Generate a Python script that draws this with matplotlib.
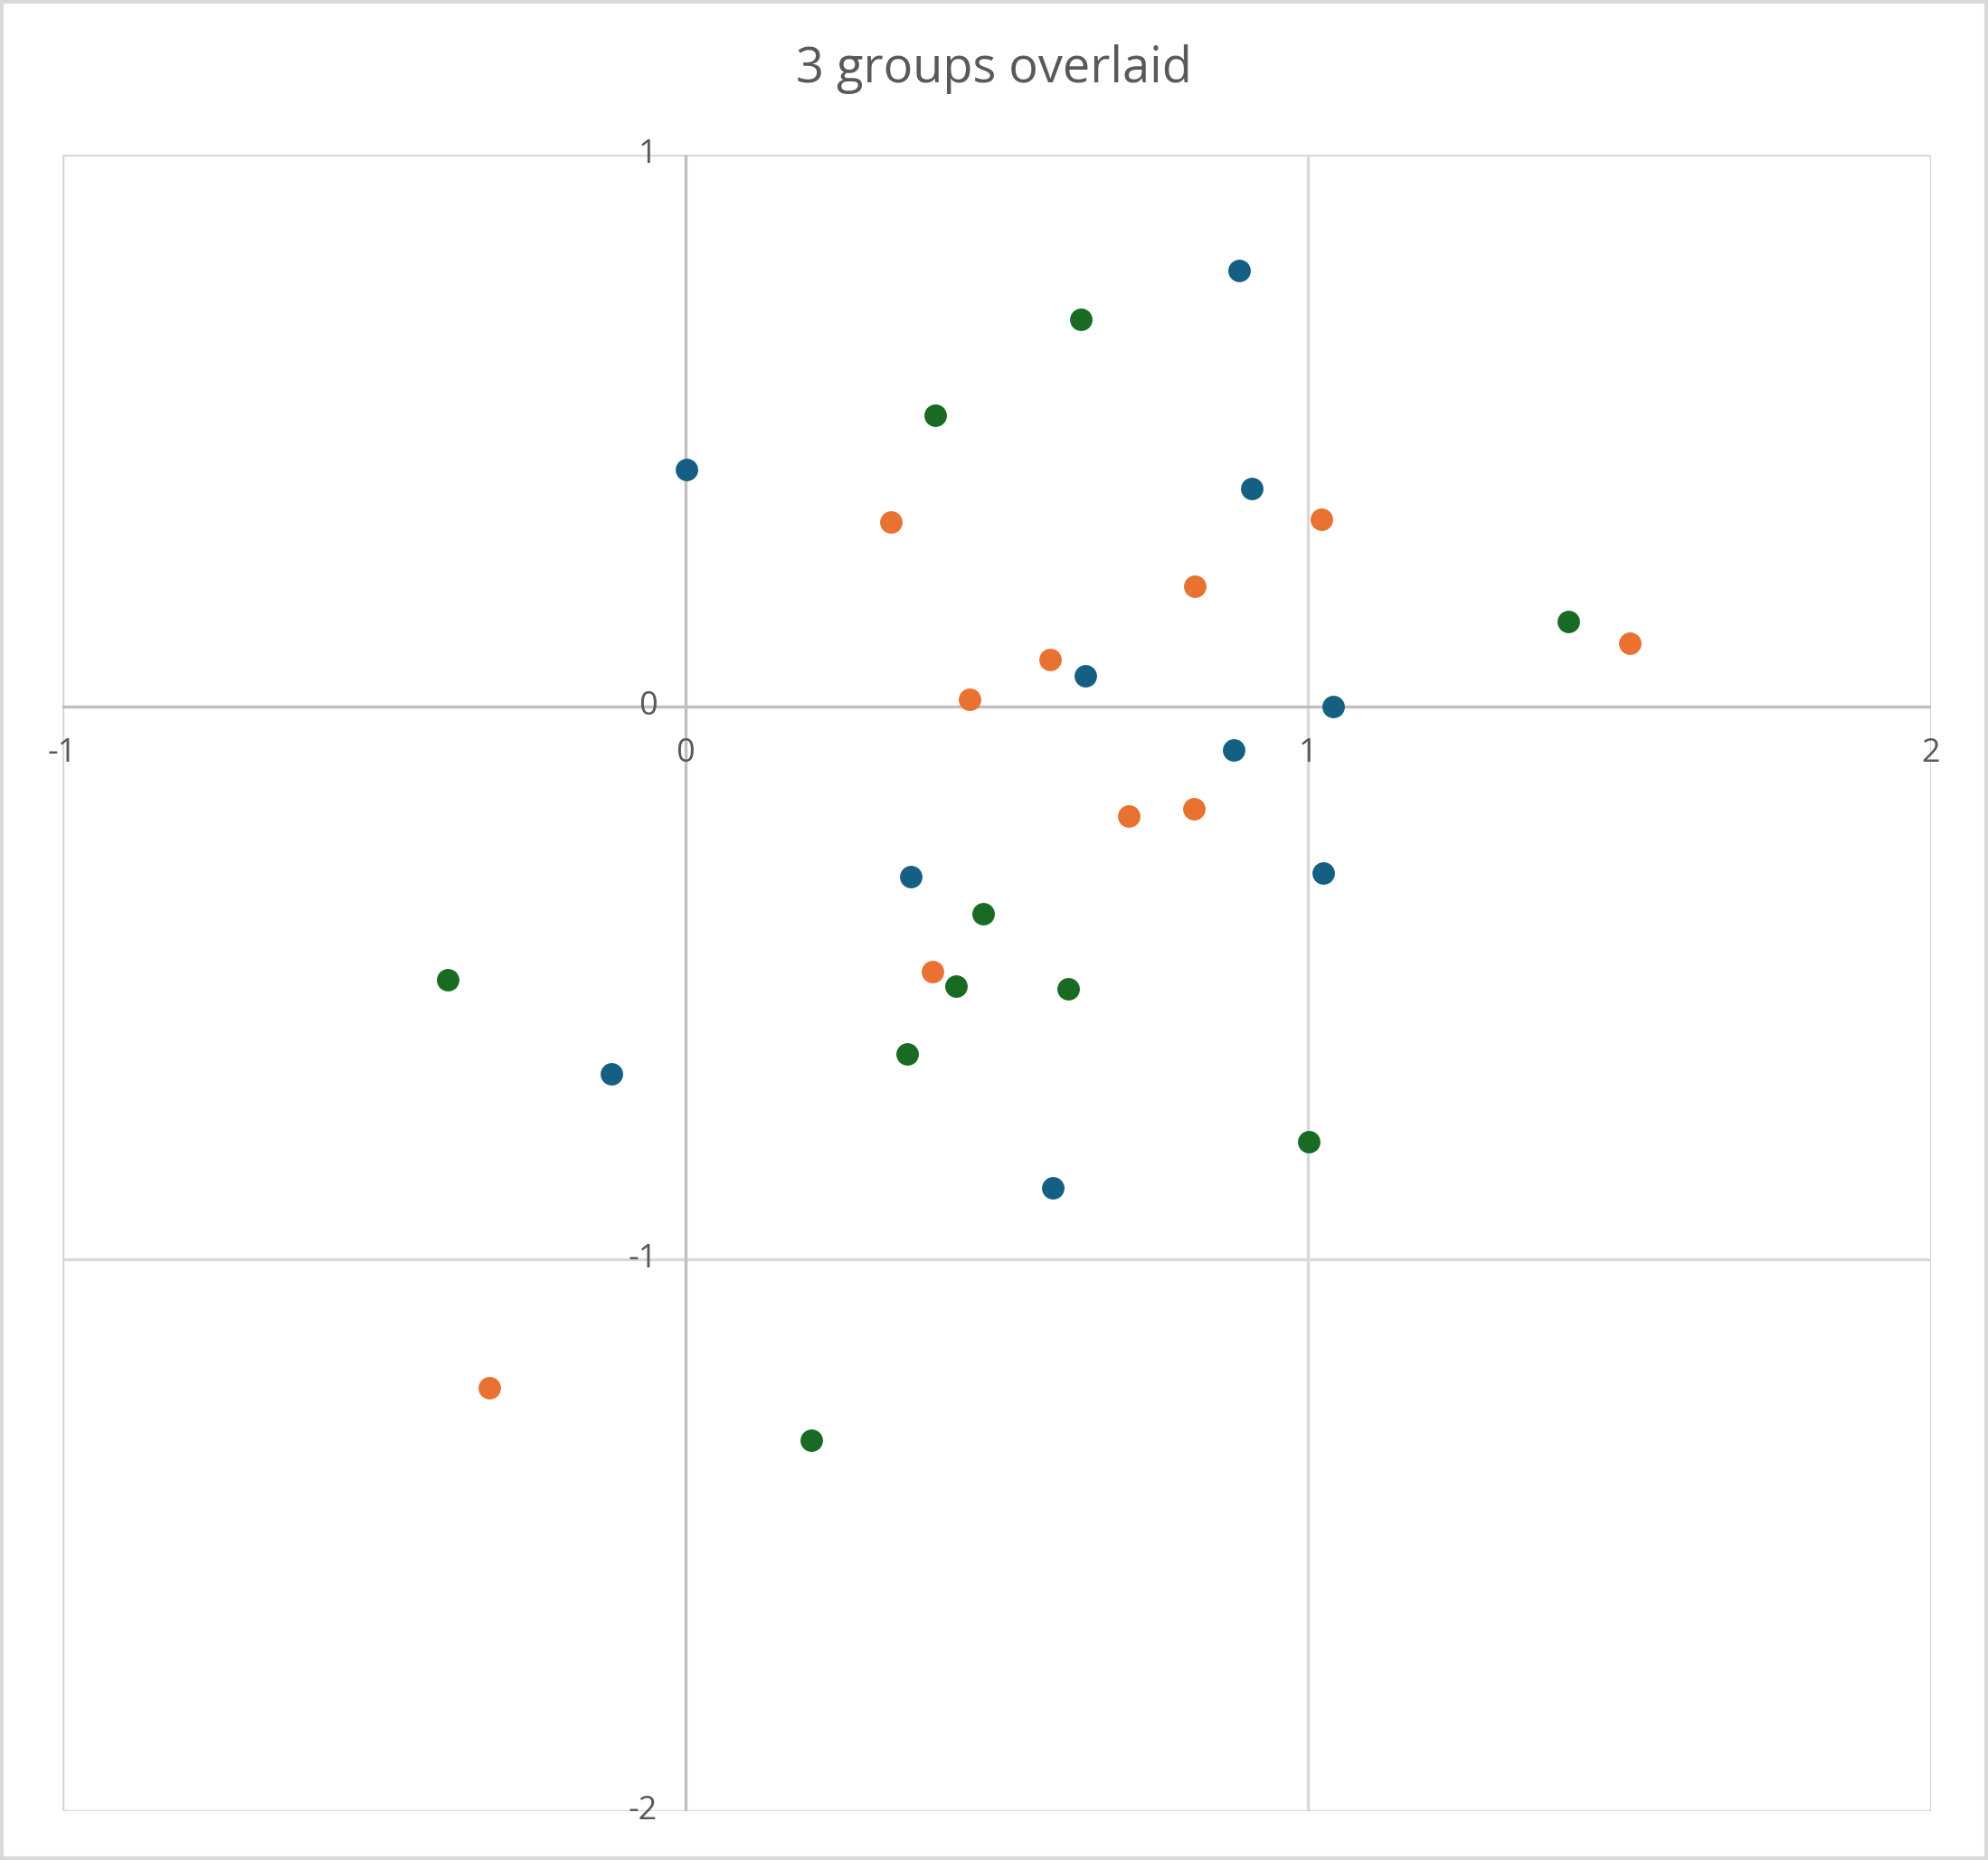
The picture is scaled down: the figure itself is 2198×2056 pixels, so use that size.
import matplotlib.pyplot as plt
from matplotlib.patches import Rectangle

plt.rcParams['font.family'] = ['Open Sans', 'DejaVu Sans']

title = "3 groups overlaid"

# group values
blue_x = [0.889, 0.002, 0.910, 0.643, 1.040, 0.881, 0.362, 1.024, -0.118, 0.590]
blue_y = [0.790, 0.430, 0.395, 0.057, 0.000, -0.078, -0.308, -0.301, -0.664, -0.871]

orange_x = [0.330, 1.022, 0.818, 1.516, 0.586, 0.456, 0.712, 0.816, 0.397, -0.315]
orange_y = [0.335, 0.340, 0.218, 0.115, 0.085, 0.014, -0.198, -0.184, -0.480, -1.234]

green_x = [0.635, 0.401, 1.417, 0.478, -0.381, 0.434, 0.615, 0.356, 1.001, 0.202]
green_y = [0.701, 0.528, 0.154, -0.374, -0.494, -0.505, -0.510, -0.629, -0.788, -1.328]

x_ticks = [-1, 0, 1, 2]
y_ticks = [-2, -1, 0, 1]

text_col = '#595959'
grid_col = '#d9d9d9'
axis_col = '#bfbfbf'

fig = plt.figure(figsize=(10.99, 10.28), dpi=200)
ax = fig.add_axes([69/2198, 1 - 2002/2056, (2135-69)/2198, (2002-171)/2056])
ax.set_xlim(-1, 2)
ax.set_ylim(-2, 1)
for s in ax.spines.values():
    s.set_visible(False)
ax.set_xticks([])
ax.set_yticks([])

for xv in x_ticks:
    if xv != 0:
        ax.axvline(xv, color=grid_col, lw=1.2, zorder=1)
for yv in y_ticks:
    if yv != 0:
        ax.axhline(yv, color=grid_col, lw=1.2, zorder=1)
ax.axvline(0, color=axis_col, lw=1.2, zorder=2)
ax.axhline(0, color=axis_col, lw=1.2, zorder=2)

ax.scatter(blue_x, blue_y, s=80, color='#156082', zorder=3, linewidths=0, clip_on=False)
ax.scatter(orange_x, orange_y, s=80, color='#E97132', zorder=3, linewidths=0, clip_on=False)
ax.scatter(green_x, green_y, s=80, color='#196B24', zorder=3, linewidths=0, clip_on=False)

for xv in x_ticks:
    ax.text(xv, -0.055, str(xv), ha='center', va='top',
            fontsize=13, color=text_col)
for yv in y_ticks:
    ax.text(-0.045, yv, str(yv), ha='right', va='center',
            fontsize=13, color=text_col)

fig.text(0.5, 1 - 77/2056, title, ha='center', va='center', fontsize=19.5, color=text_col)

fig.patches.append(Rectangle((0.001, 0.001), 0.998, 0.998, transform=fig.transFigure,
                             fill=False, edgecolor='#d9d9d9', lw=1.5))

fig.savefig('out.png', dpi=200)
